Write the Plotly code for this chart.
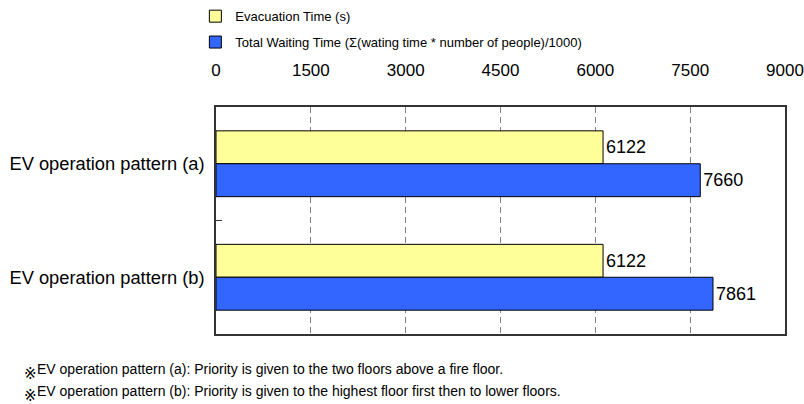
import plotly.graph_objects as go

# Data
categories = ["EV operation pattern (a)", "EV operation pattern (b)"]
evacuation_time = [6122, 6122]
total_waiting = [7660, 7861]
x_ticks = [0, 1500, 3000, 4500, 6000, 7500, 9000]
series_names = [
    "Evacuation Time (s)",
    "Total Waiting Time (Σ(wating time * number of people)/1000)",
]
notes = [
    "EV operation pattern (a): Priority is given to the two floors above a fire floor.",
    "EV operation pattern (b): Priority is given to the highest floor first then to lower floors.",
]

FONT = "Liberation Sans, Arial, sans-serif"
PLOT_L, PLOT_R, PLOT_T, PLOT_B = 216, 785, 107, 334
PW, PH = PLOT_R - PLOT_L, PLOT_B - PLOT_T


def px_to_paper(xp, yp):
    return (xp - PLOT_L) / PW, 1 - (yp - PLOT_T) / PH


fig = go.Figure()
fig.add_trace(go.Bar(
    y=categories, x=evacuation_time, orientation="h", name=series_names[0],
    marker=dict(color="#FFFF99", line=dict(color="#000000", width=1)),
    text=[str(v) for v in evacuation_time], textposition="outside",
    textfont=dict(size=18, color="#000000", family=FONT),
    legendgroup="g1", cliponaxis=False,
))
fig.add_trace(go.Bar(
    y=categories, x=total_waiting, orientation="h", name=series_names[1],
    marker=dict(color="#3366FF", line=dict(color="#000000", width=1)),
    text=[str(v) for v in total_waiting], textposition="outside",
    textfont=dict(size=18, color="#000000", family=FONT),
    legendgroup="g2", cliponaxis=False,
))

fig.update_layout(
    width=804, height=404,
    margin=dict(l=PLOT_L, r=804 - PLOT_R, t=PLOT_T, b=404 - PLOT_B, autoexpand=False),
    paper_bgcolor="white", plot_bgcolor="white",
    font=dict(family=FONT, color="#000000"),
    barmode="group", bargap=0.42, bargroupgap=0,
    showlegend=True,
    legend=dict(
        xref="container", yref="container", x=0.243, y=0.997,
        xanchor="left", yanchor="top",
        font=dict(size=13, family=FONT), tracegroupgap=6,
        traceorder="grouped", bgcolor="rgba(0,0,0,0)",
    ),
    xaxis=dict(
        side="top", range=[0, 9000], tickvals=x_ticks,
        ticktext=[str(v) for v in x_ticks], tickangle=0,
        tickfont=dict(size=17, family=FONT),
        ticklabelstandoff=22, ticks="", automargin=False,
        showgrid=True, gridcolor="#808080", gridwidth=1, griddash="6px,4px",
        zeroline=False, showline=True, linecolor="#333333", linewidth=1.5,
        mirror=True,
    ),
    yaxis=dict(
        type="category", autorange="reversed", automargin=False,
        tickfont=dict(size=18.3, family=FONT),
        ticks="inside", ticklen=6, tickcolor="#333333", tickson="boundaries",
        ticklabelstandoff=6,
        showgrid=False, showline=True, linecolor="#333333", linewidth=1.5,
        mirror=True,
    ),
)

# Footnotes, each preceded by a lowered reference mark
for i, note in enumerate(notes):
    y_px = 369 + i * 22
    mx, my = px_to_paper(22, y_px + 5)
    tx, ty = px_to_paper(35, y_px)
    fig.add_annotation(
        xref="paper", yref="paper", x=mx, y=my,
        text="※", showarrow=False, xanchor="left", yanchor="middle",
        font=dict(size=15, family="DejaVu Sans", color="#000000"),
    )
    fig.add_annotation(
        xref="paper", yref="paper", x=tx, y=ty,
        text=note, showarrow=False, xanchor="left", yanchor="middle",
        font=dict(size=14, family=FONT, color="#000000"),
    )

fig.write_html("out.html")
